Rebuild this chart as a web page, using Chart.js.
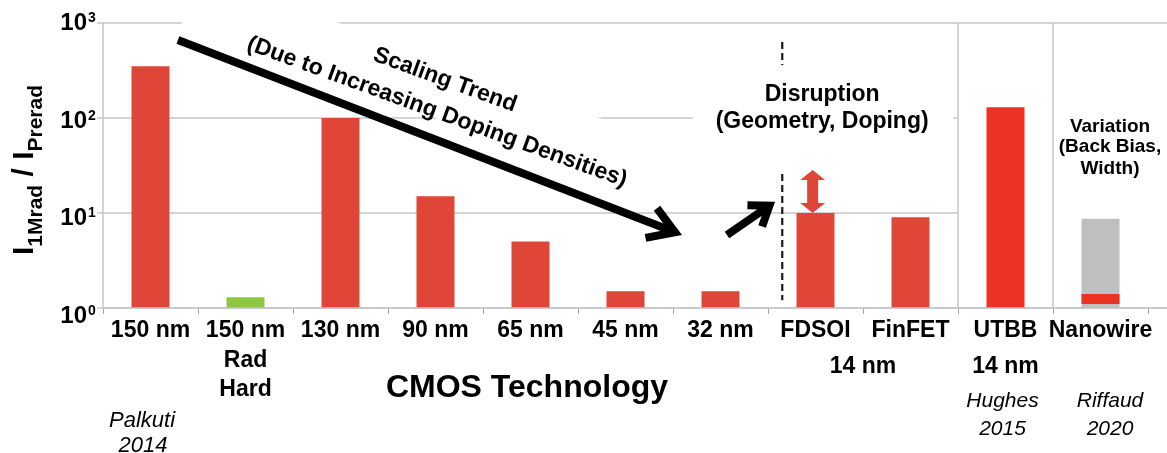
<!DOCTYPE html>
<html><head><meta charset="utf-8">
<script src="https://cdn.jsdelivr.net/npm/chart.js@4.4.1/dist/chart.umd.min.js"></script>
<style>html,body{margin:0;padding:0;background:#fff;}canvas{display:block;}</style>
</head><body>
<canvas id="c" width="1167" height="453"></canvas>
<script>
// ---------- data ----------
const categories = ["150 nm", ["150 nm", "Rad", "Hard"], "130 nm", "90 nm", "65 nm", "45 nm", "32 nm", "FDSOI", "FinFET", "UTBB", "Nanowire"];
const ratioValues = [350, 1.3, 100, 15, 5, 1.5, 1.5, 10, 9, 130, null];
const nanowireRange = [null, null, null, null, null, null, null, null, null, null, [1, 8.7]];
const nanowireMeasured = [null, null, null, null, null, null, null, null, null, null, [1.1, 1.4]];
const yTickValues = [1, 10, 100, 1000];
const nodeNote = "14 nm";
const axisTitleX = "CMOS Technology";
const references = [["Palkuti", "2014"], ["Hughes", "2015"], ["Riffaud", "2020"]];
const trendTexts = ["Scaling Trend", "(Due to Increasing Doping Densities)"];
const disruptionTexts = ["Disruption", "(Geometry, Doping)"];
const variationTexts = ["Variation", "(Back Bias,", "Width)"];

// ---------- styles ----------
const RED = '#DF4637', RED2 = '#EC3223', GREEN = '#8DC63F', GRAY = '#BFBFBF';
const barColors = [RED, GREEN, RED, RED, RED, RED, RED, RED, RED, RED2, RED2];
const FONT = "'Liberation Sans', Arial, Helvetica, sans-serif";
const GRID = '#c6c6c6';

function line(ctx, x1, y1, x2, y2) { ctx.beginPath(); ctx.moveTo(x1, y1); ctx.lineTo(x2, y2); ctx.stroke(); }

function chevronArrow(ctx, x1, y1, x2, y2, w, headLen, headAng) {
  const a = Math.atan2(y2 - y1, x2 - x1);
  const back = (w / 2) / Math.sin(headAng);
  const tx = x2 - Math.cos(a) * back, ty = y2 - Math.sin(a) * back;
  ctx.lineWidth = w; ctx.lineCap = 'butt'; ctx.lineJoin = 'miter'; ctx.miterLimit = 10;
  ctx.beginPath(); ctx.moveTo(x1, y1); ctx.lineTo(tx - Math.cos(a) * w * 0.5, ty - Math.sin(a) * w * 0.5); ctx.stroke();
  ctx.beginPath();
  ctx.moveTo(tx - headLen * Math.cos(a - headAng), ty - headLen * Math.sin(a - headAng));
  ctx.lineTo(tx, ty);
  ctx.lineTo(tx - headLen * Math.cos(a + headAng), ty - headLen * Math.sin(a + headAng));
  ctx.stroke();
}

const overlay = {
  id: 'overlay',
  beforeDatasetsDraw(chart) {
    const { ctx, chartArea: a, scales: { x, y } } = chart;
    const W = chart.width;
    const split1 = x.getPixelForValue(8.5), split2 = x.getPixelForValue(9.5);
    ctx.save();
    ctx.strokeStyle = GRID; ctx.lineWidth = 1.5;
    yTickValues.forEach(v => {
      const p = y.getPixelForValue(v);
      const xEnd = (v === 1 || v === 1000) ? W : split1;
      line(ctx, a.left, p, xEnd, p);
      line(ctx, a.left - 6, p, a.left, p);
    });
    line(ctx, a.left, a.top, a.left, a.bottom);
    line(ctx, split1, a.top, split1, a.bottom);
    line(ctx, split2, a.top, split2, a.bottom);

    // dashed disruption line
    ctx.strokeStyle = '#1a1a1a'; ctx.lineWidth = 2.2; ctx.setLineDash([7, 4]);
    const dxp = x.getPixelForValue(6.65);
    line(ctx, dxp, y.getPixelForValue(631), dxp, y.getPixelForValue(1.21));
    ctx.setLineDash([]);

    // white text boxes (cover grid lines)
    ctx.fillStyle = '#fff';
    const cx = x.getPixelForValue(3.016), cy = y.getPixelForValue(115.6);
    ctx.save(); ctx.translate(cx, cy); ctx.rotate(20 * Math.PI / 180);
    ctx.fillRect(-270, -50, 485, 56);
    ctx.restore();
    const bx1 = x.getPixelForValue(5.71), bx2 = x.getPixelForValue(8.45);
    const by1 = y.getPixelForValue(361), by2 = y.getPixelForValue(27);
    ctx.fillRect(bx1, by1, bx2 - bx1, by2 - by1);
    ctx.restore();
  },
  afterDatasetsDraw(chart) {
    const { ctx, chartArea: a, scales: { x, y } } = chart;
    const W = chart.width;
    const X = i => x.getPixelForValue(i), Y = v => y.getPixelForValue(v);
    ctx.save();
    // arrows
    ctx.strokeStyle = '#000';
    chevronArrow(ctx, X(0.289), Y(662), X(5.595), Y(5.87), 8, 30, 32 * Math.PI / 180);
    chevronArrow(ctx, X(6.068), Y(5.87), X(6.574), Y(13.1), 8, 22, 36 * Math.PI / 180);

    // red double arrow above FDSOI
    const ax = X(6.97), yb = Y(10), yt = Y(28.3);
    const hw = 12.5, sw = 5.5, hl = 10;
    ctx.fillStyle = RED;
    ctx.beginPath();
    ctx.moveTo(ax, yt);
    ctx.lineTo(ax + hw, yt + hl); ctx.lineTo(ax + sw, yt + hl);
    ctx.lineTo(ax + sw, yb - hl); ctx.lineTo(ax + hw, yb - hl);
    ctx.lineTo(ax, yb);
    ctx.lineTo(ax - hw, yb - hl); ctx.lineTo(ax - sw, yb - hl);
    ctx.lineTo(ax - sw, yt + hl); ctx.lineTo(ax - hw, yt + hl);
    ctx.closePath(); ctx.fill();

    // rotated trend texts
    ctx.fillStyle = '#000';
    ctx.textAlign = 'center'; ctx.textBaseline = 'middle';
    ctx.font = `bold 23px ${FONT}`;
    [[trendTexts[0], 3.1, 251], [trendTexts[1], 3.016, 115.6]].forEach(([t, xi, v]) => {
      ctx.save(); ctx.translate(X(xi), Y(v)); ctx.rotate(20 * Math.PI / 180);
      ctx.fillText(t, 0, 0); ctx.restore();
    });

    // disruption text
    ctx.textBaseline = 'alphabetic';
    ctx.font = `bold 23px ${FONT}`;
    ctx.fillText(disruptionTexts[0], X(7.07), Y(151));
    ctx.fillText(disruptionTexts[1], X(7.07), Y(78.5));

    // variation text (right panel)
    const rc = (X(9.5) + W) / 2;
    ctx.font = `bold 19px ${FONT}`;
    [132, 152, 174].forEach((by, i) => ctx.fillText(variationTexts[i], rc, by));

    // x-axis line (extends under right panel)
    ctx.strokeStyle = GRID; ctx.lineWidth = 1.5;
    line(ctx, a.left, a.bottom, W, a.bottom);
    ctx.restore();
  },
  afterDraw(chart) {
    const { ctx, chartArea: a, scales: { x, y } } = chart;
    const W = chart.width;
    const X = i => x.getPixelForValue(i);
    ctx.save();
    ctx.fillStyle = '#000';
    // y tick labels with superscripts
    yTickValues.forEach(v => {
      const p = y.getPixelForValue(v);
      const e = Math.round(Math.log10(v));
      const base = p + 15 - 8 * e / 3;
      ctx.textAlign = 'right'; ctx.textBaseline = 'alphabetic';
      ctx.font = `bold 24px ${FONT}`;
      ctx.fillText('10', 87, base);
      ctx.textAlign = 'left';
      ctx.font = `bold 14px ${FONT}`;
      ctx.fillText(String(e), 88, base - 8);
    });

    // y axis title: I_1Mrad / I_Prerad (rotated)
    const parts = [
      { t: 'I', f: `bold 30px ${FONT}`, b: 33 },
      { t: '1Mrad', f: `bold 21px ${FONT}`, b: 42 },
      { t: ' / ', f: `bold 30px ${FONT}`, b: 33 },
      { t: 'I', f: `bold 30px ${FONT}`, b: 33 },
      { t: 'Prerad', f: `bold 21px ${FONT}`, b: 42 }
    ];
    let total = 0;
    parts.forEach(pt => { ctx.font = pt.f; pt.w = ctx.measureText(pt.t).width; total += pt.w; });
    ctx.save(); ctx.rotate(-Math.PI / 2);
    ctx.textAlign = 'left'; ctx.textBaseline = 'alphabetic';
    let cur = -(170 + total / 2);
    parts.forEach(pt => { ctx.font = pt.f; ctx.fillText(pt.t, cur, pt.b); cur += pt.w; });
    ctx.restore();

    // notes under the axis
    ctx.textAlign = 'center'; ctx.textBaseline = 'alphabetic';
    ctx.font = `bold 23px ${FONT}`;
    ctx.fillText(nodeNote, X(7.5), 373);
    ctx.fillText(nodeNote, X(9), 373);
    ctx.font = `bold 32px ${FONT}`;
    ctx.fillText(axisTitleX, 527, 397);

    // references
    ctx.font = `italic 22px ${FONT}`;
    ctx.fillText(references[0][0], 142, 427);
    ctx.fillText(references[0][1], 143, 452);
    ctx.font = `italic 21px ${FONT}`;
    ctx.fillText(references[1][0], X(9) - 3, 407);
    ctx.fillText(references[1][1], X(9) - 3, 435);
    const rc = (X(9.5) + W) / 2;
    ctx.fillText(references[2][0], rc, 407);
    ctx.fillText(references[2][1], rc, 435);
    ctx.restore();
  }
};

const barOpts = { grouped: false, barPercentage: 0.4, categoryPercentage: 1, borderWidth: 0 };

new Chart(document.getElementById('c'), {
  type: 'bar',
  data: {
    labels: categories,
    datasets: [
      Object.assign({ label: 'Nanowire range', data: nanowireRange, backgroundColor: GRAY, order: 2 }, barOpts),
      Object.assign({ label: 'I1Mrad / IPrerad', data: ratioValues, backgroundColor: barColors, order: 1 }, barOpts),
      Object.assign({ label: 'Nanowire', data: nanowireMeasured, backgroundColor: RED2, order: 0 }, barOpts)
    ]
  },
  options: {
    responsive: false, animation: false, devicePixelRatio: 1,
    layout: { padding: { top: 23, right: 19, left: 0, bottom: 0 } },
    plugins: { legend: { display: false }, tooltip: { enabled: false }, title: { display: false } },
    scales: {
      x: {
        type: 'category', offset: true,
        grid: { display: true, drawOnChartArea: false, drawTicks: true, tickLength: 6, color: '#a0a0a0', offset: true },
        border: { display: false },
        ticks: { autoSkip: false, maxRotation: 0, minRotation: 0, padding: 2, color: '#000',
                 font: { family: FONT, size: 23, weight: 'bold', lineHeight: 1.28 } },
        afterFit: s => { s.height = 145; }
      },
      y: {
        type: 'logarithmic', min: 1, max: 1000,
        grid: { display: false }, border: { display: false },
        ticks: { display: false },
        afterFit: s => { s.width = 103; }
      }
    }
  },
  plugins: [overlay]
});
</script>
</body></html>
